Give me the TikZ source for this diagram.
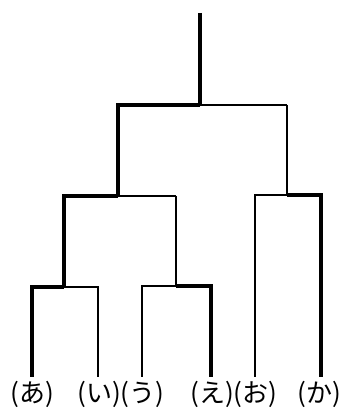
\documentclass[tikz,border=0pt]{standalone}
\usepackage{fontspec}
\newfontfamily\jpfont{Noto Sans CJK JP}
\tikzset{
  heavy/.style={line width=3.8pt},
  mid/.style={line width=2.4pt},
  light/.style={line width=1.4pt},
  leaf/.style={anchor=north, inner sep=0pt, font=\jpfont\fontsize{26}{28}\selectfont}
}

\begin{document}
\begin{tikzpicture}[x=1pt, y=-1pt, line join=miter]
    \useasboundingbox (0,0) rectangle (341,411);
    % branch points
    \coordinate (top) at (200,13); \coordinate (r) at (200,105);
    \coordinate (p) at (118,196); \coordinate (q) at (287,195);
    \coordinate (s) at (64,287); \coordinate (t) at (176,286);
    % leaves
    \node[leaf] (a) at (32,381) {(あ)}; \node[leaf] (i) at (99,381) {(い)};
    \node[leaf] (u) at (142,381) {(う)}; \node[leaf] (e) at (212,381) {(え)};
    \node[leaf] (o) at (255,381) {(お)}; \node[leaf] (k) at (319,381) {(か)};
    \coordinate (ta) at (32,377); \coordinate (ti) at (98,377);
    \coordinate (tu) at (142,377); \coordinate (te) at (211,377);
    \coordinate (to) at (255,377); \coordinate (tk) at (321,377);
    % tree
    \draw[heavy] (top) -- (r); \draw[heavy] (r) -| (p);
    \draw[light] (r) -- (r -| q); \draw[mid] (r -| q) -- (q);
    \draw[heavy] (p) -| (s); \draw[light] (p) -- (p -| t);
    \draw[mid] (p -| t) -- (t);
    \draw[light] (q) -| (to); \draw[heavy] (q) -| (tk);
    \draw[heavy] (s) -| (ta); \draw[light] (s) -| (ti);
    \draw[light] (t) -| (tu); \draw[heavy] (t) -| (te);
  \end{tikzpicture}
\end{document}
